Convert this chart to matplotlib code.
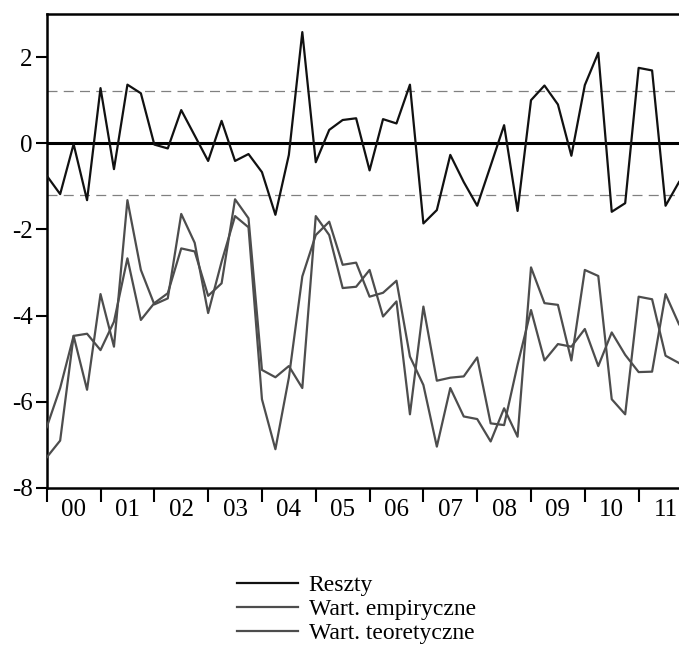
import matplotlib
matplotlib.use("Agg")
import matplotlib.pyplot as plt
import numpy as np

# Quarterly observations 2000Q1 - 2011Q4
year_labels = ["00", "01", "02", "03", "04", "05", "06", "07", "08", "09", "10", "11"]

reszty = [-0.75, -1.18, -0.02, -1.32, 1.28, -0.60, 1.36, 1.16,
          -0.03, -0.12, 0.77, 0.18, -0.41, 0.52, -0.41, -0.25,
          -0.67, -1.66, -0.27, 2.58, -0.44, 0.31, 0.54, 0.58,
          -0.63, 0.56, 0.46, 1.36, -1.86, -1.55, -0.27, -0.90,
          -1.45, -0.52, 0.42, -1.57, 1.00, 1.34, 0.90, -0.29,
          1.35, 2.10, -1.59, -1.39, 1.75, 1.69, -1.45, -0.90]

empiryczne = [-7.29, -6.90, -4.47, -5.72, -3.50, -4.72, -1.32, -2.94,
              -3.74, -3.60, -1.64, -2.31, -3.94, -2.75, -1.69, -1.95,
              -5.94, -7.10, -5.44, -3.09, -2.13, -1.82, -2.82, -2.77,
              -3.56, -3.47, -3.19, -4.95, -5.61, -7.04, -5.68, -6.34,
              -6.40, -6.92, -6.15, -6.81, -2.88, -3.71, -3.75, -5.04,
              -2.94, -3.08, -5.94, -6.29, -3.56, -3.62, -4.93, -5.10]

teoretyczne = [-6.59, -5.68, -4.47, -4.42, -4.80, -4.14, -2.67, -4.10,
               -3.71, -3.48, -2.44, -2.51, -3.54, -3.25, -1.30, -1.74,
               -5.26, -5.43, -5.17, -5.68, -1.69, -2.13, -3.36, -3.33,
               -2.94, -4.02, -3.67, -6.29, -3.79, -5.51, -5.44, -5.41,
               -4.97, -6.50, -6.54, -5.14, -3.87, -5.04, -4.66, -4.72,
               -4.31, -5.17, -4.39, -4.91, -5.31, -5.30, -3.50, -4.20]

band = 1.21  # +/- one standard error of residuals

plt.rcParams['font.family'] = ['Liberation Serif', 'DejaVu Serif']

fig = plt.figure(figsize=(6.79, 6.58), dpi=100)
ax = fig.add_axes([46.7 / 679, 1 - 488 / 658, 1 - 46.7 / 679, (488 - 14) / 658])

x = np.arange(len(reszty))
gray = "#4d4d4d"
ax.axhline(0, color="black", lw=2.2, zorder=2)
ax.axhline(band, color="#808080", lw=0.9, ls=(0, (8, 5)), zorder=1)
ax.axhline(-band, color="#808080", lw=0.9, ls=(0, (8, 5)), zorder=1)
l1, = ax.plot(x, reszty, color="#111111", lw=1.6, zorder=3, label="Reszty")
l2, = ax.plot(x, empiryczne, color=gray, lw=1.6, zorder=3, label="Wart. empiryczne")
l3, = ax.plot(x, teoretyczne, color=gray, lw=1.6, zorder=3, label="Wart. teoretyczne")

ax.set_xlim(0, len(reszty) - 1)
ax.set_ylim(-8, 3)
ax.set_yticks([-8, -6, -4, -2, 0, 2])
ax.set_yticklabels(["-8", "-6", "-4", "-2", "0", "2"])
ax.set_xticks(np.arange(0, len(reszty), 4))
ax.set_xticklabels([])
ax.set_xticks(np.arange(len(year_labels)) * 4 + 2, minor=True)
ax.set_xticklabels(year_labels, minor=True)
ax.tick_params(axis="x", which="major", direction="out", length=10, width=1.5, color="black")
ax.tick_params(axis="x", which="minor", length=0, pad=8, labelsize=18)
ax.tick_params(axis="y", direction="out", length=8, width=1.5, labelsize=18, pad=2)

for side in ["left", "bottom", "top"]:
    ax.spines[side].set_linewidth(1.8)
    ax.spines[side].set_color("black")
ax.spines["right"].set_visible(False)

fig.legend(handles=[l1, l2, l3], loc="upper left", bbox_to_anchor=(225 / 679, 1 - 563 / 658),
           frameon=False, fontsize=17, handlelength=2.6, handletextpad=0.45,
           labelspacing=0.1, borderpad=0)

fig.savefig("out.png", dpi=100)
